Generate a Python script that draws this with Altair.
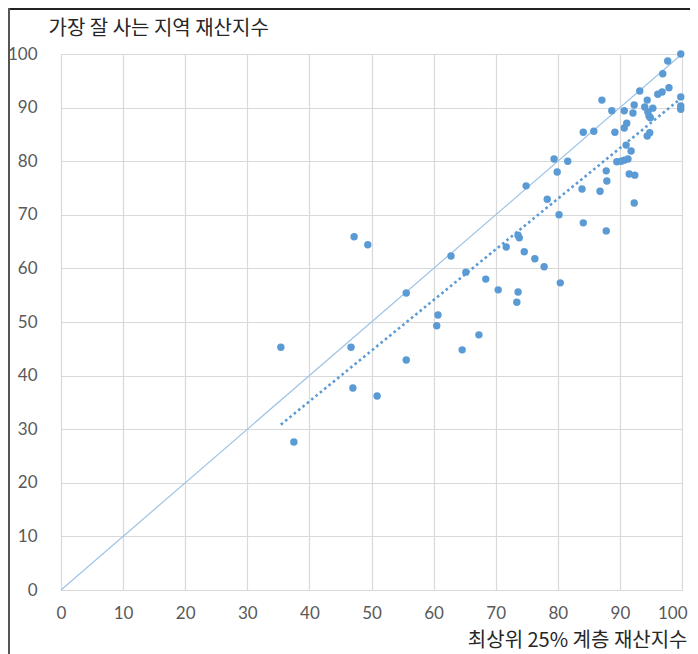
import altair as alt
import pandas as pd

# 최상위 25% 계층 재산지수 (x) vs 가장 잘 사는 지역 재산지수 (y)
top25 = [35.4, 37.5, 47.2, 49.4, 46.7, 47.0, 50.9, 55.6, 55.6, 60.7,
         60.5, 62.8, 64.6, 65.2, 67.3, 68.4, 70.4, 71.7, 73.6, 73.4,
         73.6, 73.8, 74.6, 76.3, 77.8, 80.4, 74.9, 78.3, 80.2, 79.4,
         81.6, 79.9, 83.9, 84.1, 99.8, 97.7, 96.9, 97.9, 96.8, 96.1,
         93.2, 87.1, 88.7, 90.7, 92.3, 92.1, 94.4, 94.0, 94.5, 94.7,
         94.9, 95.3, 99.8, 99.8, 99.8, 84.1, 85.8, 89.2, 90.7, 91.1,
         94.4, 94.8, 91.0, 91.8, 89.5, 90.2, 90.7, 91.3, 87.8, 87.9,
         86.8, 91.5, 92.4, 92.3, 87.8]
richest = [45.3, 27.6, 65.9, 64.4, 45.3, 37.7, 36.2, 55.4, 42.9, 51.3,
           49.3, 62.3, 44.8, 59.3, 47.6, 58.0, 56.0, 64.0, 55.6, 53.7,
           66.2, 65.7, 63.1, 61.8, 60.3, 57.3, 75.4, 72.9, 70.0, 80.4,
           80.0, 78.0, 74.8, 68.5, 100.0, 98.7, 96.3, 93.7, 92.9, 92.5,
           93.1, 91.4, 89.4, 89.4, 90.5, 89.0, 91.4, 90.1, 89.2, 88.4,
           88.1, 89.9, 92.0, 90.3, 89.7, 85.4, 85.6, 85.4, 86.2, 87.1,
           84.7, 85.3, 83.0, 81.9, 79.9, 80.0, 80.2, 80.4, 78.2, 76.3,
           74.4, 77.6, 77.4, 72.2, 67.0]
identity = [0, 100]
ticks = list(range(0, 101, 10))

x_title = "최상위 25% 계층 재산지수"
y_title = "가장 잘 사는 지역 재산지수"

df = pd.DataFrame({"x": top25, "y": richest})
ref = pd.DataFrame({"x": identity, "y": identity})

LABEL_FONT = "Lato"
KR_FONT = "Noto Sans CJK KR"

xscale = alt.Scale(domain=[0, 100], nice=False, zero=False)
yscale = alt.Scale(domain=[0, 100], nice=False, zero=False)

xaxis = alt.Axis(values=ticks, grid=True, gridColor="#d9d9d9", gridWidth=1.2,
                 domain=False, ticks=False, labelFont=LABEL_FONT, labelFontSize=17,
                 labelColor="#595959", labelPadding=15, labelFlush=True,
                 labelFlushOffset=5,
                 title=x_title, titleFont=KR_FONT, titleFontSize=20,
                 titleFontWeight="normal", titleColor="#262626",
                 titleAlign="right", titleAnchor="end", titleX=626, titleY=56,
                 titleBaseline="alphabetic")
yaxis = alt.Axis(values=ticks, grid=True, gridColor="#d9d9d9", gridWidth=1.2,
                 domain=False, ticks=False, labelFont=LABEL_FONT, labelFontSize=17,
                 labelColor="#595959", labelPadding=24, labelFlush=False,
                 title=y_title, titleFont=KR_FONT, titleFontSize=20,
                 titleFontWeight="normal", titleColor="#262626",
                 titleAngle=0, titleAlign="left", titleX=-13, titleY=-20,
                 titleBaseline="alphabetic")

diag = alt.Chart(ref).mark_line(color="#9dc3e6", strokeWidth=1.2).encode(
    x=alt.X("x:Q", scale=xscale, axis=xaxis),
    y=alt.Y("y:Q", scale=yscale, axis=yaxis),
)

trend = alt.Chart(df).transform_regression("x", "y").mark_line(
    color="#5b9bd5", strokeWidth=2.6, strokeDash=[2.6, 3]
).encode(x="x:Q", y="y:Q")

pts = alt.Chart(df).mark_circle(color="#5b9bd5", size=55, opacity=1).encode(
    x="x:Q", y="y:Q"
)

frame_top = alt.Chart(ref).mark_rule(color="#222222", strokeWidth=2).encode(
    x=alt.value(-53), x2=alt.value(640), y=alt.value(-45)
)
frame_left = alt.Chart(ref).mark_rule(color="#555555", strokeWidth=2).encode(
    x=alt.value(-52), y=alt.value(-46), y2=alt.value(600)
)

chart = alt.layer(diag, trend, pts, frame_top, frame_left).properties(
    width=621, height=536,
    padding={"left": 53, "top": 46, "right": 8, "bottom": 70},
    autosize=alt.AutoSizeParams(type="none"),
).configure_view(stroke=None).configure(background="white")

chart.save("out.html", embed_options={"renderer": "svg", "actions": False})
